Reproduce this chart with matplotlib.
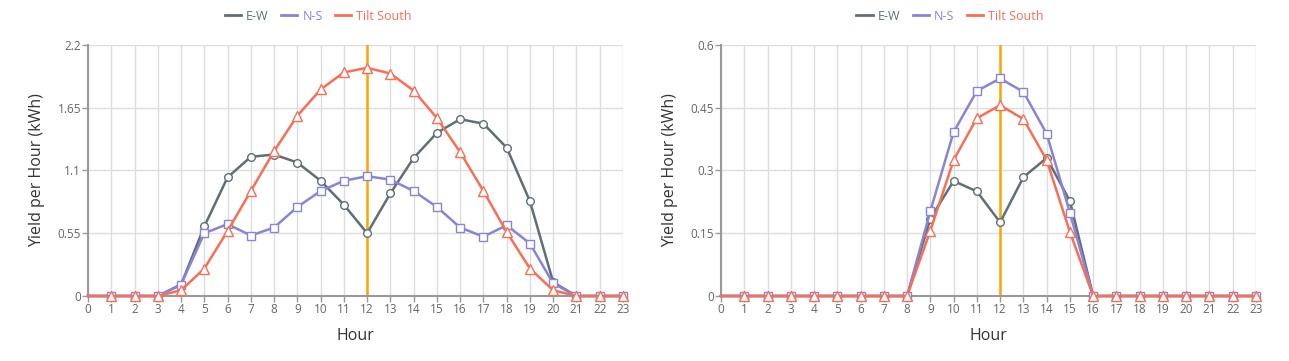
import matplotlib
matplotlib.use("Agg")
import matplotlib.pyplot as plt
import numpy as np

plt.rcParams['font.family'] = ['Open Sans', 'DejaVu Sans']

hours = list(range(24))
series_names = ["E-W", "N-S", "Tilt South"]

# Left chart
left_ew = [0, 0, 0, 0, 0.10, 0.61, 1.04, 1.22, 1.24, 1.17, 1.01, 0.80, 0.55, 0.90, 1.21, 1.43, 1.55, 1.51, 1.30, 0.83, 0.12, 0, 0, 0]
left_ns = [0, 0, 0, 0, 0.10, 0.55, 0.63, 0.53, 0.60, 0.78, 0.92, 1.01, 1.05, 1.02, 0.92, 0.78, 0.60, 0.52, 0.62, 0.46, 0.11, 0, 0, 0]
left_ts = [0, 0, 0, 0, 0.05, 0.24, 0.57, 0.92, 1.27, 1.58, 1.81, 1.96, 2.00, 1.95, 1.80, 1.56, 1.26, 0.92, 0.56, 0.24, 0.05, 0, 0, 0]
left_yticks = [0, 0.55, 1.1, 1.65, 2.2]
left_yticklabels = ["0", "0.55", "1.1", "1.65", "2.2"]

# Right chart
right_ew = [0, 0, 0, 0, 0, 0, 0, 0, 0, 0.185, 0.275, 0.25, 0.176, 0.284, 0.33, 0.227, 0, 0, 0, 0, 0, 0, 0, 0]
right_ns = [0, 0, 0, 0, 0, 0, 0, 0, 0, 0.203, 0.392, 0.49, 0.52, 0.488, 0.388, 0.199, 0, 0, 0, 0, 0, 0, 0, 0]
right_ts = [0, 0, 0, 0, 0, 0, 0, 0, 0, 0.156, 0.325, 0.425, 0.456, 0.423, 0.325, 0.153, 0, 0, 0, 0, 0, 0, 0, 0]
right_yticks = [0, 0.15, 0.3, 0.45, 0.6]
right_yticklabels = ["0", "0.15", "0.3", "0.45", "0.6"]

highlight_hour = 12

colors = ["#5f6f75", "#8884d8", "#fa6e55"]
markers = ["o", "s", "^"]

fig = plt.figure(figsize=(12.89, 3.61), dpi=100)

def draw(ax, data, yticks, yticklabels, legend_x):
    ax.set_xlim(0, 23)
    ax.set_ylim(yticks[0], yticks[-1])
    ax.set_xticks(hours)
    ax.set_yticks(yticks)
    ax.set_yticklabels(yticklabels)
    ax.grid(True, color="#dddddd", linewidth=1.0, zorder=0)
    ax.set_axisbelow(True)
    for s in ["top", "right"]:
        ax.spines[s].set_visible(False)
    for s in ["left", "bottom"]:
        ax.spines[s].set_color("#999999")
        ax.spines[s].set_linewidth(1.5)
    ax.tick_params(axis="both", colors="#999999", labelcolor="#666666", labelsize=8.5, length=4, width=1, pad=1)
    ax.axvline(highlight_hour, color="#ffa500", linewidth=1.8, zorder=2)
    for vals, c, m, name in zip(data, colors, markers, series_names):
        ms = 6.5 if m == "^" else 5.5
        ax.plot(hours, vals, color=c, linewidth=1.8, marker=m, markersize=ms,
                markerfacecolor="white", markeredgecolor=c, markeredgewidth=1.0,
                markevery=list(range(1, 24)), zorder=3, clip_on=False, label=name)
    ax.set_xlabel("Hour", fontsize=11.5, color="#333333", labelpad=9)
    ax.set_ylabel("Yield per Hour (kWh)", fontsize=11.5, color="#333333", labelpad=9)
    leg_handles = [plt.Line2D([], [], color=c, linewidth=2) for c in colors]
    leg = fig.legend(leg_handles, series_names, loc="center", bbox_to_anchor=(legend_x, 0.955),
                     ncol=3, frameon=False, fontsize=9, handlelength=1.3, handletextpad=0.4,
                     columnspacing=1.0)
    for t, c in zip(leg.get_texts(), colors):
        t.set_color(c)

ax1 = fig.add_axes([88/1289, 65/361, 535/1289, 251/361])
draw(ax1, [left_ew, left_ns, left_ts], left_yticks, left_yticklabels, 0.247)
ax2 = fig.add_axes([721/1289, 65/361, 535/1289, 251/361])
draw(ax2, [right_ew, right_ns, right_ts], right_yticks, right_yticklabels, 0.737)

fig.savefig("out.png", dpi=100)
